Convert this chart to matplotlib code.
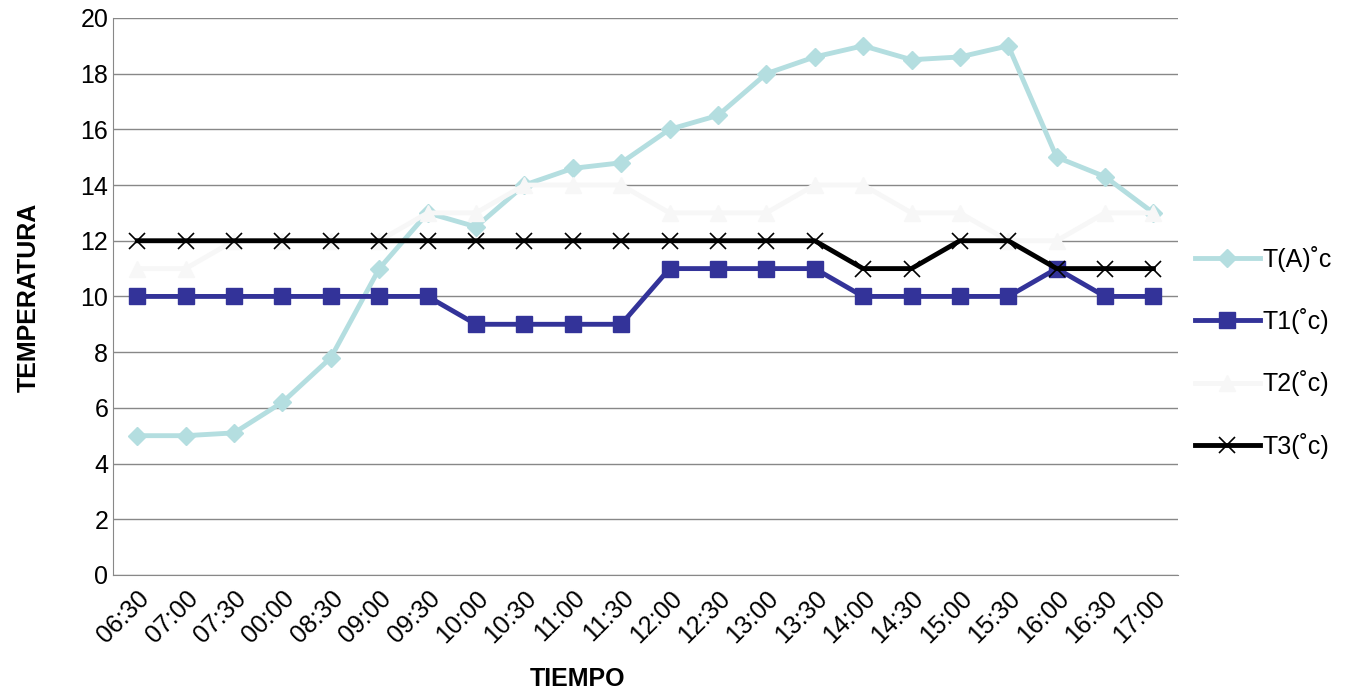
import matplotlib
matplotlib.use("Agg")
import matplotlib.pyplot as plt

times = ["06:30", "07:00", "07:30", "00:00", "08:30", "09:00", "09:30", "10:00", "10:30",
         "11:00", "11:30", "12:00", "12:30", "13:00", "13:30", "14:00", "14:30", "15:00",
         "15:30", "16:00", "16:30", "17:00"]
t_a = [5, 5, 5.1, 6.2, 7.8, 11, 13, 12.5, 14, 14.6, 14.8, 16, 16.5, 18, 18.6, 19, 18.5, 18.6,
       19, 15, 14.3, 13]
t1 = [10, 10, 10, 10, 10, 10, 10, 9, 9, 9, 9, 11, 11, 11, 11, 10, 10, 10, 10, 11, 10, 10]
t2 = [11, 11, 12, 12, 12, 12, 13, 13, 14, 14, 14, 13, 13, 13, 14, 14, 13, 13, 12, 12, 13, 13]
t3 = [12, 12, 12, 12, 12, 12, 12, 12, 12, 12, 12, 12, 12, 12, 12, 11, 11, 12, 12, 11, 11, 11]

plt.rcParams["font.family"] = ["Liberation Sans", "DejaVu Sans"]
fig = plt.figure(figsize=(13.63, 6.91), dpi=100)
ax = fig.add_axes([0.083, 0.168, 0.781, 0.806])
x = range(len(times))
ax.plot(x, t_a, color="#B4DEE0", lw=3.5, marker="D", ms=9, label="T(A)˚c")
ax.plot(x, t1, color="#333399", lw=3.5, marker="s", ms=11, label="T1(˚c)")
ax.plot(x, t2, color="#F7F7F7", lw=3.5, marker="^", ms=11, label="T2(˚c)")
ax.plot(x, t3, color="#000000", lw=3.5, marker="x", ms=11, mew=1.2, label="T3(˚c)")

ax.set_xlim(-0.5, len(times) - 0.5)
ax.set_ylim(0, 20)
ax.set_yticks(range(0, 21, 2))
ax.set_xticks(list(x))
ax.set_xticklabels(times, rotation=45, ha="right", rotation_mode="anchor")
ax.tick_params(labelsize=18, length=0)
ax.tick_params(axis="x", pad=8)
ax.grid(axis="y", color="#888888", lw=1)
ax.set_axisbelow(True)
for s in ["top", "right"]:
    ax.spines[s].set_visible(False)
ax.spines["left"].set_color("#888888")
ax.spines["bottom"].set_color("#888888")
fig.text(0.424, 0.018, "TIEMPO", fontsize=18, weight="bold", ha="center", va="center")
fig.text(0.021, 0.57, "TEMPERATURA", fontsize=18, weight="bold", rotation=90,
         ha="center", va="center")
ax.legend(loc="center left", bbox_to_anchor=(0.995, 0.40), frameon=False, fontsize=18,
          labelspacing=1.45, handlelength=2.6, handletextpad=0.1)
fig.savefig("out.png")
